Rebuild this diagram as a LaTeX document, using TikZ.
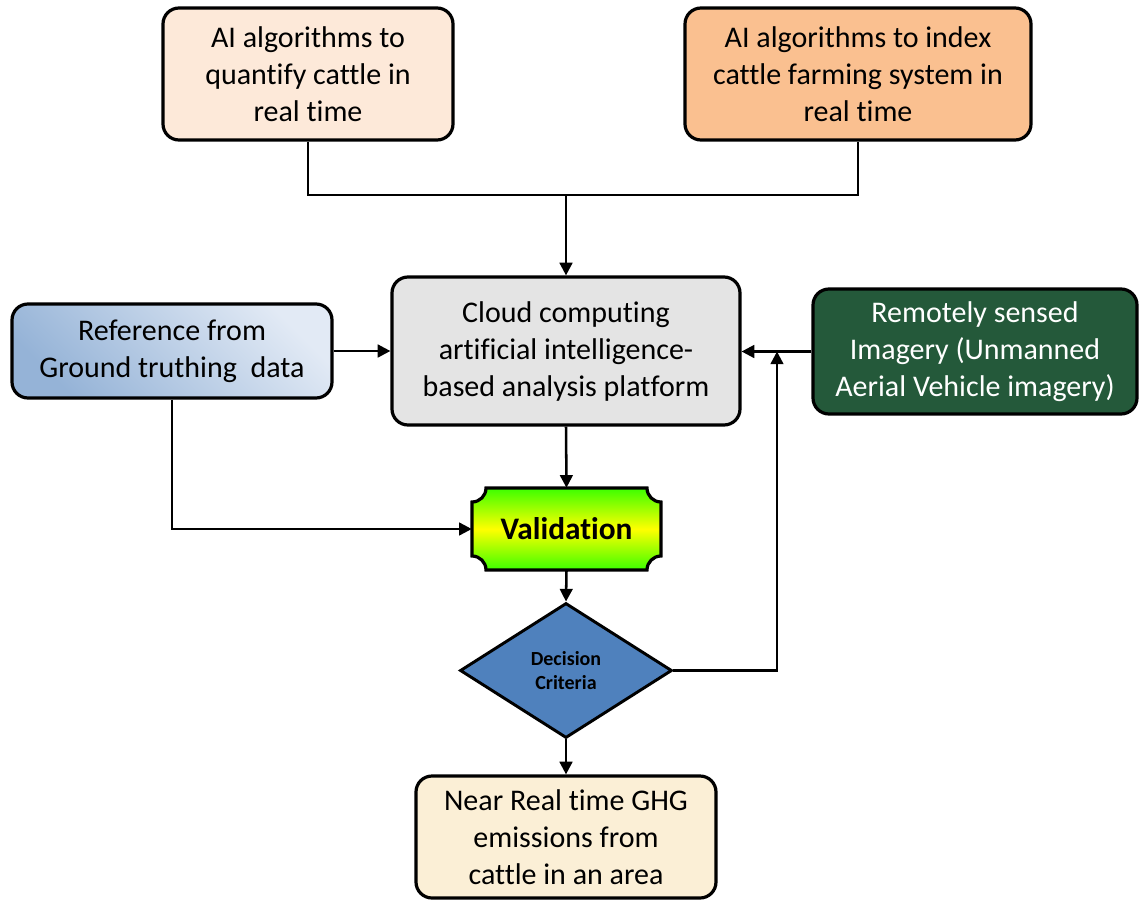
\documentclass[tikz,border=0pt]{standalone}
\usepackage{fontspec}
\setmainfont{Carlito}[Ligatures=NoCommon]
\usetikzlibrary{arrows.meta,shapes.geometric}
\definecolor{peachfill}{HTML}{FDE9D9}
\definecolor{orangefill}{HTML}{FAC090}
\definecolor{marblefill}{HTML}{E4E4E4}
\definecolor{greenfill}{HTML}{24593A}
\definecolor{creamfill}{HTML}{FBEFD6}
\definecolor{bluedark}{HTML}{95B3D7}
\definecolor{bluelight}{HTML}{E2EAF5}
\definecolor{decfill}{HTML}{4F81BD}
\definecolor{valgreen}{HTML}{3CFF00}

\begin{document}
\begin{tikzpicture}[x=0.75pt,y=0.75pt,yscale=-1,xscale=1,
  box/.style={draw, line width=2.4pt, rounded corners=12pt, align=center, inner sep=0pt,
    font=\fontsize{22.5}{27.75}\selectfont},
  conn/.style={line width=1.9pt},
  arr/.style={conn, -{Triangle[length=9.5pt,width=9.5pt]}}]
\path[use as bounding box] (0,0) rectangle (1139,900);

%Shape: Rounded Rectangles
\node[box, fill=peachfill, minimum width=217.5pt, minimum height=99pt] (quant) at (308,74)
  {AI algorithms to\\quantify cattle in\\real time};
\node[box, fill=orangefill, minimum width=259.5pt, minimum height=99pt] (index) at (858,74)
  {AI algorithms to index\\cattle farming system in\\real time};
\node[box, fill=marblefill, minimum width=261pt, minimum height=111pt] (cloud) at (566,351)
  {Cloud computing\\artificial intelligence-\\based analysis platform};
\node[box, top color=bluedark, bottom color=bluelight, shading angle=135,
  minimum width=240pt, minimum height=70.5pt] (ground) at (172,351)
  {Reference from\\Ground truthing~~data};
\node[box, fill=greenfill, text=white, minimum width=243pt, minimum height=93.75pt] (uav) at (975,351.5)
  {Remotely sensed\\Imagery (Unmanned\\Aerial Vehicle imagery)};
\node[box, fill=creamfill, minimum width=225pt, minimum height=91.5pt] (ghg) at (566,837)
  {Near Real time GHG\\emissions from\\cattle in an area};

%Shape: Plaque
\draw[line width=2.4pt, top color=valgreen, bottom color=valgreen, middle color=yellow]
  (486,488) -- (647,488) arc[start angle=180, end angle=90, radius=14]
  -- (661,556) arc[start angle=270, end angle=180, radius=14]
  -- (486,570) arc[start angle=360, end angle=270, radius=14]
  -- (472,502) arc[start angle=90, end angle=0, radius=14] -- cycle;
\node[minimum width=141.75pt, minimum height=61.5pt, inner sep=0pt,
  font=\fontsize{23.5}{28}\selectfont\bfseries] (valid) at (566.5,529) {Validation};

%Shape: Diamond
\node[diamond, draw, line width=2.2pt, fill=decfill, aspect=1.57, inner sep=0pt,
  minimum width=159pt, minimum height=101.25pt, align=center,
  font=\fontsize{15}{18}\selectfont\bfseries] (decide) at (566,670.5) {Decision\\Criteria};

%Straight Lines
\coordinate (join) at (566,195);
\coordinate (back) at (777,351.5);
\draw[conn] (quant.south) |- (join) -| (index.south);
\draw[arr] (join) -- (cloud.north);
\draw[arr] (ground.east) -- (ground.east -| cloud.west);
\draw[arr] (uav.west) -- (uav.west -| cloud.east);
\draw[arr] (cloud.south) -- (valid.north);
\draw[arr] (ground.south) |- (valid.west);
\draw[arr] (valid.south) -- (decide.north);
\draw[arr] (decide.east) -| (back);
\draw[arr] (decide.south) -- (ghg.north);

\end{tikzpicture}
\end{document}
